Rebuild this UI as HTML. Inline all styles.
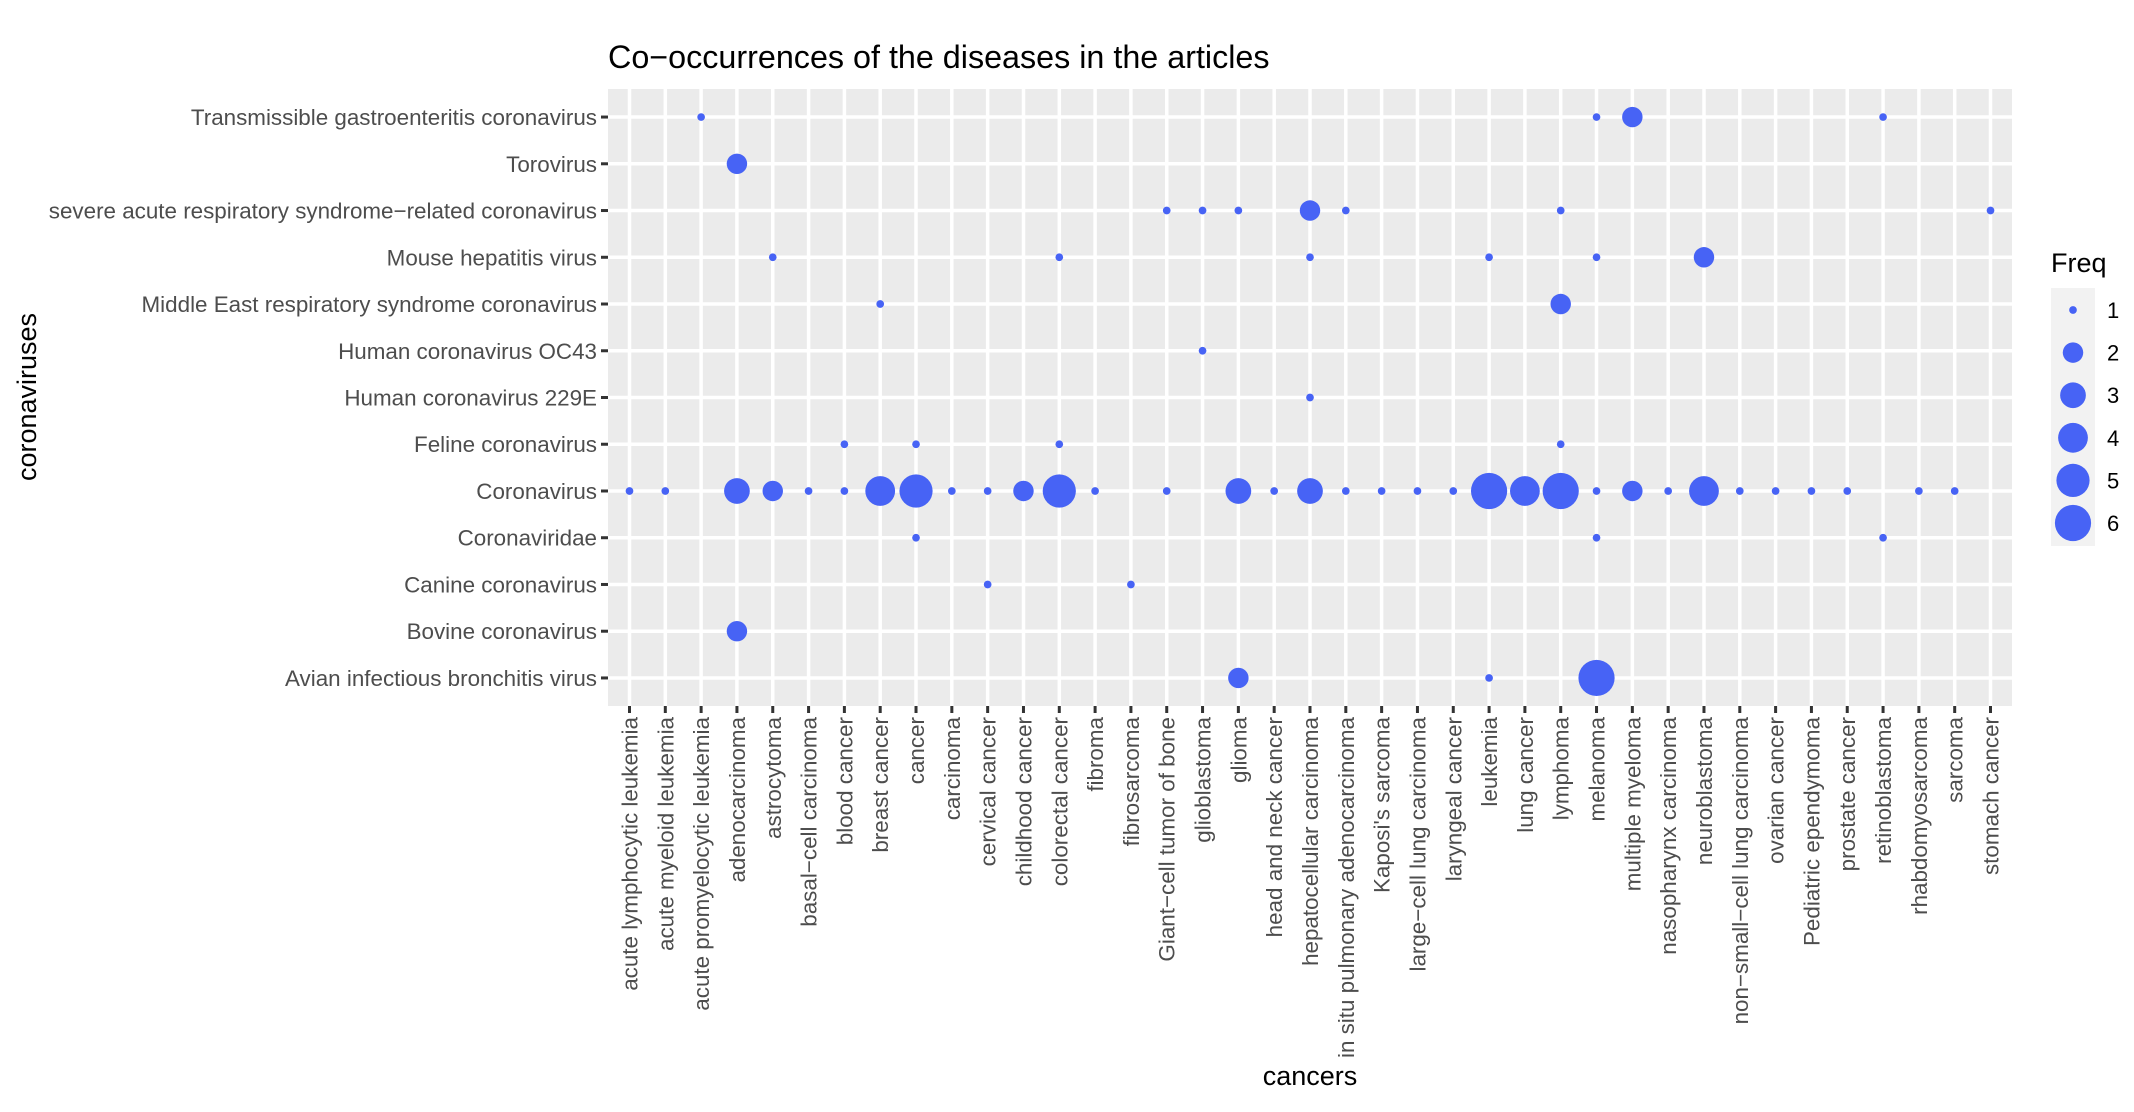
<!DOCTYPE html>
<html><head><meta charset="utf-8"><style>
body{margin:0;background:#fff;}
svg{display:block;font-family:"Liberation Sans",Arial,sans-serif;}
</style></head><body>
<svg id="chart" width="2134" height="1112" viewBox="0 0 2134 1112" xmlns="http://www.w3.org/2000/svg">
<rect x="0" y="0" width="2134" height="1112" fill="#fff"/>
<text x="608" y="68" font-size="32.3" fill="#000">Co−occurrences of the diseases in the articles</text>
<rect x="608" y="89" width="1404" height="617" fill="#ebebeb"/>
<g id="grid"></g><g id="ticks"></g><g id="points"></g>
<text x="1310" y="1085" font-size="27" text-anchor="middle" fill="#000">cancers</text>
<text transform="translate(36,397) rotate(-90)" font-size="27" text-anchor="middle" fill="#000">coronaviruses</text>
<g id="legend">
<text x="2051" y="272" font-size="27" fill="#000">Freq</text>
<rect x="2051" y="288" width="44" height="258" fill="#f2f2f2"/>
</g>
</svg>
<script>
const cancers=["acute lymphocytic leukemia","acute myeloid leukemia","acute promyelocytic leukemia","adenocarcinoma","astrocytoma","basal−cell carcinoma","blood cancer","breast cancer","cancer","carcinoma","cervical cancer","childhood cancer","colorectal cancer","fibroma","fibrosarcoma","Giant−cell tumor of bone","glioblastoma","glioma","head and neck cancer","hepatocellular carcinoma","in situ pulmonary adenocarcinoma","Kaposi's sarcoma","large−cell lung carcinoma","laryngeal cancer","leukemia","lung cancer","lymphoma","melanoma","multiple myeloma","nasopharynx carcinoma","neuroblastoma","non−small−cell lung carcinoma","ovarian cancer","Pediatric ependymoma","prostate cancer","retinoblastoma","rhabdomyosarcoma","sarcoma","stomach cancer"];
const viruses=["Avian infectious bronchitis virus","Bovine coronavirus","Canine coronavirus","Coronaviridae","Coronavirus","Feline coronavirus","Human coronavirus 229E","Human coronavirus OC43","Middle East respiratory syndrome coronavirus","Mouse hepatitis virus","severe acute respiratory syndrome−related coronavirus","Torovirus","Transmissible gastroenteritis coronavirus"];
const pointCancer=[
"acute promyelocytic leukemia","melanoma","multiple myeloma","retinoblastoma",
"adenocarcinoma",
"Giant−cell tumor of bone","glioblastoma","glioma","hepatocellular carcinoma","in situ pulmonary adenocarcinoma","lymphoma","stomach cancer",
"astrocytoma","colorectal cancer","hepatocellular carcinoma","leukemia","melanoma","neuroblastoma",
"breast cancer","lymphoma",
"glioblastoma",
"hepatocellular carcinoma",
"blood cancer","cancer","colorectal cancer","lymphoma",
"acute lymphocytic leukemia","acute myeloid leukemia","adenocarcinoma","astrocytoma","basal−cell carcinoma","blood cancer","breast cancer","cancer","carcinoma","cervical cancer","childhood cancer","colorectal cancer","fibroma","Giant−cell tumor of bone","glioma","head and neck cancer","hepatocellular carcinoma","in situ pulmonary adenocarcinoma","Kaposi's sarcoma","large−cell lung carcinoma","laryngeal cancer","leukemia","lung cancer","lymphoma","melanoma","multiple myeloma","nasopharynx carcinoma","neuroblastoma","non−small−cell lung carcinoma","ovarian cancer","Pediatric ependymoma","prostate cancer","rhabdomyosarcoma","sarcoma",
"cancer","melanoma","retinoblastoma",
"cervical cancer","fibrosarcoma",
"adenocarcinoma",
"glioma","leukemia","melanoma"];
const pointVirus=[
"Transmissible gastroenteritis coronavirus","Transmissible gastroenteritis coronavirus","Transmissible gastroenteritis coronavirus","Transmissible gastroenteritis coronavirus",
"Torovirus",
"severe acute respiratory syndrome−related coronavirus","severe acute respiratory syndrome−related coronavirus","severe acute respiratory syndrome−related coronavirus","severe acute respiratory syndrome−related coronavirus","severe acute respiratory syndrome−related coronavirus","severe acute respiratory syndrome−related coronavirus","severe acute respiratory syndrome−related coronavirus",
"Mouse hepatitis virus","Mouse hepatitis virus","Mouse hepatitis virus","Mouse hepatitis virus","Mouse hepatitis virus","Mouse hepatitis virus",
"Middle East respiratory syndrome coronavirus","Middle East respiratory syndrome coronavirus",
"Human coronavirus OC43",
"Human coronavirus 229E",
"Feline coronavirus","Feline coronavirus","Feline coronavirus","Feline coronavirus",
"Coronavirus","Coronavirus","Coronavirus","Coronavirus","Coronavirus","Coronavirus","Coronavirus","Coronavirus","Coronavirus","Coronavirus","Coronavirus","Coronavirus","Coronavirus","Coronavirus","Coronavirus","Coronavirus","Coronavirus","Coronavirus","Coronavirus","Coronavirus","Coronavirus","Coronavirus","Coronavirus","Coronavirus","Coronavirus","Coronavirus","Coronavirus","Coronavirus","Coronavirus","Coronavirus","Coronavirus","Coronavirus","Coronavirus","Coronavirus",
"Coronaviridae","Coronaviridae","Coronaviridae",
"Canine coronavirus","Canine coronavirus",
"Bovine coronavirus",
"Avian infectious bronchitis virus","Avian infectious bronchitis virus","Avian infectious bronchitis virus"];
const freq=[
1,1,2,1,
2,
1,1,1,2,1,1,1,
1,1,1,1,1,2,
1,2,
1,
1,
1,1,1,1,
1,1,3,2,1,1,4,5,1,1,2,5,1,1,3,1,3,1,1,1,1,6,4,6,1,2,1,4,1,1,1,1,1,1,
1,1,1,
1,1,
2,
2,1,6];
const legendValues=[1,2,3,4,5,6];

const NS="http://www.w3.org/2000/svg";
const PX0=608,PX1=2012,PY0=89,PY1=706;
const stepX=(PX1-PX0)/(cancers.length-1+1.2);
const stepY=(PY1-PY0)/(viruses.length-1+1.2);
function xPos(c){return PX0+(0.6+cancers.indexOf(c))*stepX;}
function yPos(v){return PY1-(0.6+viruses.indexOf(v))*stepY;}
const fMin=1,fMax=6;
function rad(v){const s=1+5*Math.sqrt((v-fMin)/(fMax-fMin));return 2.85*s+1;}
function mk(tag,attrs,parent){const e=document.createElementNS(NS,tag);for(const k in attrs)e.setAttribute(k,attrs[k]);parent.appendChild(e);return e;}
const grid=document.getElementById('grid'),ticks=document.getElementById('ticks'),pts=document.getElementById('points'),leg=document.getElementById('legend');
cancers.forEach(c=>{
  const x=xPos(c);
  const g=mk('line',{x1:x,x2:x,y1:PY0,y2:PY1,stroke:'#fff','stroke-width':3.5},grid);
  
  
  const t=mk('line',{x1:x,x2:x,y1:PY1,y2:PY1+7,stroke:'#333','stroke-width':3},ticks);
  
  
  const l=mk('text',{transform:`translate(${x+8},${PY1+11}) rotate(-90)`,'text-anchor':'end','font-size':22.4,fill:'#4d4d4d'},ticks);
  l.textContent=c;
  
  
});
viruses.forEach(v=>{
  const y=yPos(v);
  const g=mk('line',{x1:PX0,x2:PX1,y1:y,y2:y,stroke:'#fff','stroke-width':3.5},grid);
  
  
  const t=mk('line',{x1:PX0-7,x2:PX0,y1:y,y2:y,stroke:'#333','stroke-width':3},ticks);
  
  
  const l=mk('text',{x:PX0-11,y:y+8,'text-anchor':'end','font-size':22.4,fill:'#4d4d4d'},ticks);
  l.textContent=v;
  
  
});
freq.forEach((f,i)=>{
  const c=mk('circle',{cx:xPos(pointCancer[i]),cy:yPos(pointVirus[i]),r:rad(f),fill:'#4763f5'},pts);
  
  
});
legendValues.forEach((v,i)=>{
  const y=310+i*42.6;
  const c=mk('circle',{cx:2073,cy:y,r:rad(v),fill:'#4763f5'},leg);
  
  
  const t=mk('text',{x:2107,y:y+8,'font-size':22,fill:'#000'},leg);
  t.textContent=v;
  
  
});
</script>
</body></html>
